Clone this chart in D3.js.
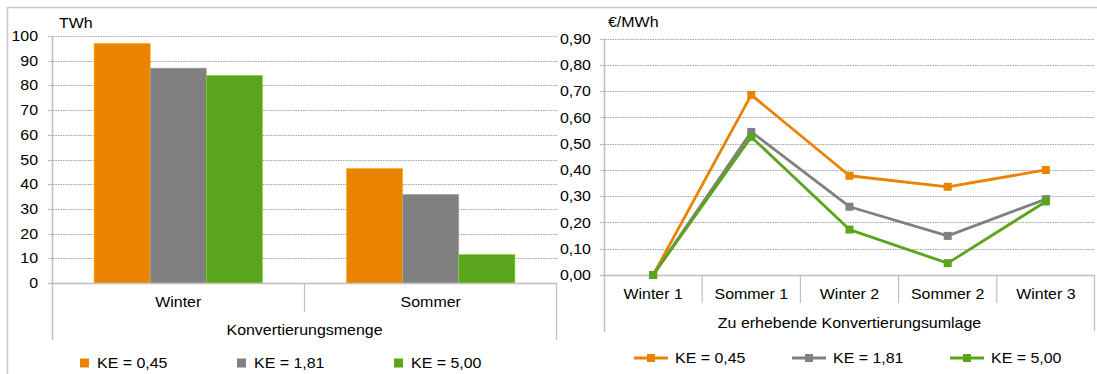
<!DOCTYPE html>
<html><head><meta charset="utf-8">
<script src="https://cdn.jsdelivr.net/npm/d3@7"></script>
<style>body{margin:0;background:#fff}text{font-family:"Liberation Sans",Arial,sans-serif;fill:#000}</style>
</head><body><svg id="c" width="1097" height="374"></svg>
<script>
const seriesNames = ["KE = 0,45", "KE = 1,81", "KE = 5,00"];
const colors = ["#E98300", "#808080", "#5AA51B"];
// left chart
const barCategories = ["Winter", "Sommer"];
const barValues = [[97, 46.3], [87, 35.9], [84, 11.5]];
const barTicks = [0,10,20,30,40,50,60,70,80,90,100];
// right chart
const lineCategories = ["Winter 1", "Sommer 1", "Winter 2", "Sommer 2", "Winter 3"];
const lineValues = [
  [0, 0.686, 0.378, 0.336, 0.40],
  [0, 0.545, 0.26, 0.149, 0.289],
  [0, 0.526, 0.173, 0.045, 0.28]
];
const lineTicks = [0,0.1,0.2,0.3,0.4,0.5,0.6,0.7,0.8,0.9];

const svg = d3.select("#c");
const fmt = v => v.toFixed(2).replace(".", ",");
const axisCol = "#bfbfbf";
const FS = 14, SX = 1.14;
function txt(g, x, y, s, anchor) {
  return g.append("text").attr("transform", `translate(${x},${y}) scale(${SX},1)`)
    .attr("dy","0.36em").attr("text-anchor", anchor || "start").attr("font-size", FS).text(s);
}

// outer frame
svg.append("rect").attr("x",7.5).attr("y",7.5).attr("width",1200).attr("height",500)
  .attr("fill","none").attr("stroke","#c8c8c8").attr("stroke-width",1.6);

function grid(g, y, ticks, x0, x1, lblX, f) {
  ticks.forEach(t => {
    if (t !== 0) g.append("line").attr("x1",x0-4).attr("x2",x1).attr("y1",Math.round(y(t))+0.5).attr("y2",Math.round(y(t))+0.5)
      .attr("stroke","#8c8c8c").attr("stroke-width",0.8).attr("stroke-dasharray","1.5,1");
    txt(g, lblX, y(t), f(t), "end");
  });
}

// ---------- LEFT: bars ----------
{
  const g = svg.append("g");
  const x0 = 52, x1 = 557, yTop = 36, yBot = 283;
  const y = d3.scaleLinear().domain([0,100]).range([yBot, yTop]);
  const xb = d3.scaleBand().domain(barCategories).range([x0, x1]).paddingInner(0).paddingOuter(0);
  const xs = d3.scaleBand().domain(seriesNames).range([0, xb.bandwidth()]).paddingInner(0).paddingOuter(0.75);
  grid(g, y, barTicks, x0, x1, 38, t => t);
  seriesNames.forEach((s, i) => {
    barCategories.forEach((c, j) => {
      g.append("rect").attr("x", xb(c)+xs(s)).attr("y", y(barValues[i][j]))
        .attr("width", xs.bandwidth()).attr("height", y(0)-y(barValues[i][j]))
        .attr("fill", colors[i]).attr("stroke", d3.color(colors[i]).brighter(0.8)).attr("stroke-width",0.6);
    });
  });
  // axes
  g.append("line").attr("x1",x0+0.5).attr("x2",x0+0.5).attr("y1",yTop).attr("y2",340).attr("stroke",axisCol).attr("stroke-width",1.5);
  g.append("line").attr("x1",x0-4).attr("x2",x1).attr("y1",yBot+0.5).attr("y2",yBot+0.5).attr("stroke",axisCol).attr("stroke-width",1.5);
  g.append("line").attr("x1",x1-0.5).attr("x2",x1-0.5).attr("y1",yBot).attr("y2",340).attr("stroke",axisCol).attr("stroke-width",1.2);
  barCategories.forEach((c, j) => {
    if (j > 0) g.append("line").attr("x1",xb(c)).attr("x2",xb(c)).attr("y1",yBot).attr("y2",312).attr("stroke",axisCol).attr("stroke-width",1.2);
    txt(g, xb(c)+xb.bandwidth()/2, 302, c, "middle");
  });
  txt(g, (x0+x1)/2, 330, "Konvertierungsmenge", "middle");
  txt(g, 59, 23, "TWh");
  // legend
  const lx = [80, 237, 394];
  seriesNames.forEach((s, i) => {
    g.append("rect").attr("x",lx[i]).attr("y",358.5).attr("width",9).attr("height",9).attr("fill",colors[i]);
    txt(g, lx[i]+17, 363, s);
  });
}

// ---------- RIGHT: lines ----------
{
  const g = svg.append("g");
  const x0 = 604, x1 = 1095, yTop = 38.7, yBot = 275;
  const y = d3.scaleLinear().domain([0,0.9]).range([yBot, yTop]);
  const xb = d3.scaleBand().domain(lineCategories).range([x0, x1]);
  const xc = c => xb(c) + xb.bandwidth()/2;
  grid(g, y, lineTicks, x0, x1, 591, fmt);
  g.append("line").attr("x1",x0+0.5).attr("x2",x0+0.5).attr("y1",yTop).attr("y2",332).attr("stroke",axisCol).attr("stroke-width",1.5);
  g.append("line").attr("x1",x0-4).attr("x2",x1).attr("y1",yBot+0.5).attr("y2",yBot+0.5).attr("stroke",axisCol).attr("stroke-width",1.5);
  g.append("line").attr("x1",x1-0.5).attr("x2",x1-0.5).attr("y1",yBot).attr("y2",331).attr("stroke",axisCol).attr("stroke-width",1.2);
  lineCategories.forEach((c, j) => {
    if (j > 0) g.append("line").attr("x1",xb(c)).attr("x2",xb(c)).attr("y1",yBot).attr("y2",303).attr("stroke",axisCol).attr("stroke-width",1.2);
    txt(g, xc(c), 294, c, "middle");
  });
  txt(g, (x0+x1)/2, 323, "Zu erhebende Konvertierungsumlage", "middle");
  txt(g, 608, 22, "€/MWh");
  const line = d3.line().x((d,j) => xc(lineCategories[j])).y(d => y(d));
  seriesNames.forEach((s, i) => {
    g.append("path").datum(lineValues[i]).attr("d", line).attr("fill","none").attr("stroke",colors[i]).attr("stroke-width",2.8).attr("stroke-linejoin","round");
    lineValues[i].forEach((v, j) => {
      g.append("rect").attr("x", xc(lineCategories[j])-4).attr("y", y(v)-4).attr("width",8).attr("height",8).attr("fill",colors[i]);
    });
  });
  const lx = [634, 792, 950];
  seriesNames.forEach((s, i) => {
    g.append("line").attr("x1",lx[i]).attr("x2",lx[i]+34).attr("y1",358).attr("y2",358).attr("stroke",colors[i]).attr("stroke-width",2.8);
    g.append("rect").attr("x",lx[i]+13).attr("y",354).attr("width",8).attr("height",8).attr("fill",colors[i]);
    txt(g, lx[i]+41, 358, s);
  });
}
</script></body></html>
